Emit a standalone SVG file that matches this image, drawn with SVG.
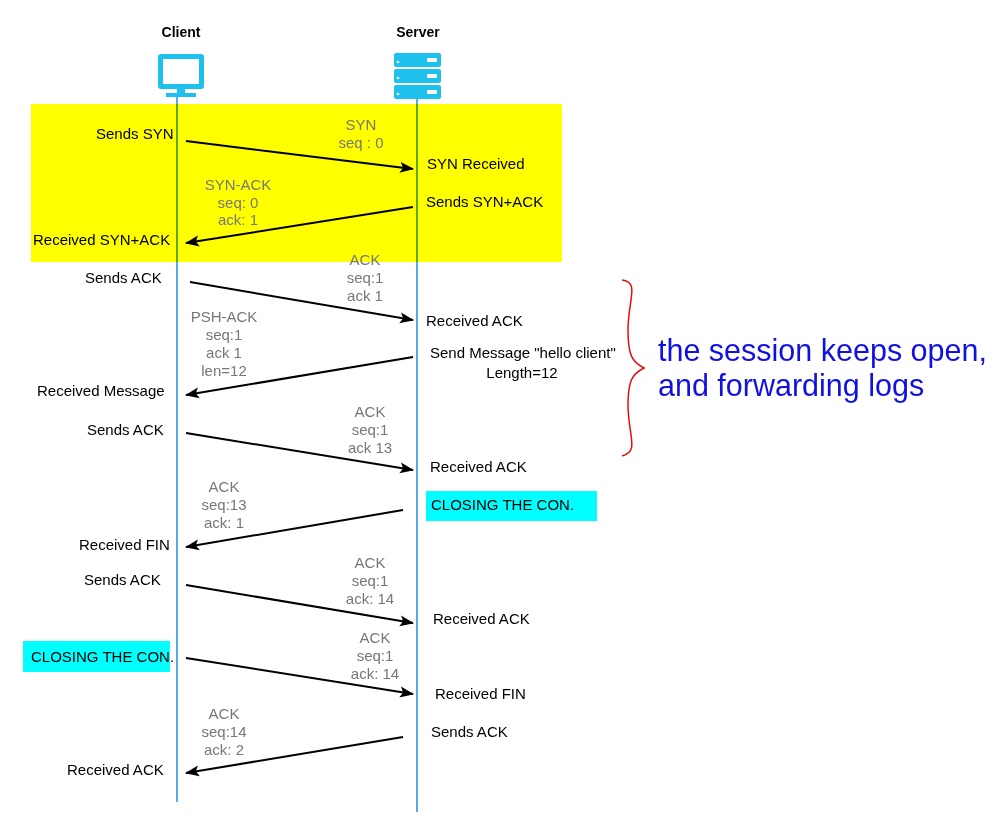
<svg xmlns="http://www.w3.org/2000/svg" width="999" height="833" viewBox="0 0 999 833">
<style>
text{font-family:"Liberation Sans",Arial,sans-serif;font-size:15px}
.g{fill:#777;text-anchor:middle}
.h{font-weight:bold;font-size:14px;text-anchor:middle}
.m{stroke:#000;stroke-width:2;fill:none;marker-end:url(#a)}
.life{stroke:#5aaae6;stroke-width:2}
.ic{fill:#1ec0ee}
</style>
<defs><marker id="a" markerWidth="16" markerHeight="12" refX="13" refY="6" orient="auto" markerUnits="userSpaceOnUse"><path d="M0,0.5 L14,6 L0,11.5 L3,6 Z" fill="#000"/></marker></defs>
<rect width="999" height="833" fill="#fff"/>
<g id="client"><text class="h" x="181" y="37">Client</text>
<rect class="ic" x="158" y="54" width="46" height="35" rx="3"/><rect x="163" y="59" width="36" height="25" fill="#fff"/><rect class="ic" x="177" y="88" width="8" height="6"/><rect class="ic" x="166" y="93" width="30" height="4"/>
<line class="life" x1="177" y1="97" x2="177" y2="802"/></g>
<g id="server"><text class="h" x="418" y="37">Server</text>
<g class="ic"><rect x="394" y="53" width="47" height="14" rx="2"/><rect x="394" y="69" width="47" height="14" rx="2"/><rect x="394" y="85" width="47" height="14" rx="2"/></g>
<g fill="#fff"><circle cx="398" cy="62" r="1.3"/><circle cx="398" cy="78" r="1.3"/><circle cx="398" cy="94" r="1.3"/><rect x="427" y="58" width="10" height="4"/><rect x="427" y="74" width="10" height="4"/><rect x="427" y="90" width="10" height="4"/></g>
<line class="life" x1="417" y1="99" x2="417" y2="812"/></g>
<rect id="handshake" x="31" y="104" width="531" height="158" fill="#ffff00" style="mix-blend-mode:multiply"/>
<rect x="426" y="491" width="171" height="30" fill="#00ffff"/>
<rect x="23" y="641" width="147" height="31" fill="#00ffff"/>
<g id="connectors">
<line class="m" x1="186" y1="141" x2="413" y2="169"/>
<line class="m" x1="413" y1="207" x2="186" y2="243"/>
<line class="m" x1="190" y1="282" x2="413" y2="320"/>
<line class="m" x1="413" y1="357" x2="186" y2="395"/>
<line class="m" x1="186" y1="433" x2="413" y2="470"/>
<line class="m" x1="403" y1="510" x2="186" y2="547"/>
<line class="m" x1="186" y1="585" x2="413" y2="623"/>
<line class="m" x1="186" y1="658" x2="413" y2="694"/>
<line class="m" x1="403" y1="737" x2="186" y2="773"/>
</g>
<g id="labels">
<text x="96" y="139">Sends SYN</text>
<text class="g" x="361" y="130">SYN</text><text class="g" x="361" y="148">seq : 0</text>
<text x="427" y="169">SYN Received</text>
<text class="g" x="238" y="190">SYN-ACK</text><text class="g" x="238" y="208">seq: 0</text><text class="g" x="238" y="225">ack: 1</text>
<text x="426" y="207">Sends SYN+ACK</text>
<text x="33" y="245">Received SYN+ACK</text>
<text x="85" y="283">Sends ACK</text>
<text class="g" x="365" y="265">ACK</text><text class="g" x="365" y="283">seq:1</text><text class="g" x="365" y="301">ack 1</text>
<text x="426" y="326">Received ACK</text>
<text class="g" x="224" y="322">PSH-ACK</text><text class="g" x="224" y="340">seq:1</text><text class="g" x="224" y="358">ack 1</text><text class="g" x="224" y="376">len=12</text>
<text x="430" y="358">Send Message "hello client"</text><text x="522" y="378" text-anchor="middle">Length=12</text>
<text x="37" y="396">Received Message</text>
<text x="87" y="435">Sends ACK</text>
<text class="g" x="370" y="417">ACK</text><text class="g" x="370" y="435">seq:1</text><text class="g" x="370" y="453">ack 13</text>
<text x="430" y="472">Received ACK</text>
<text class="g" x="224" y="492">ACK</text><text class="g" x="224" y="510">seq:13</text><text class="g" x="224" y="528">ack: 1</text>
<text x="431" y="510">CLOSING THE CON.</text>
<text x="79" y="550">Received FIN</text>
<text x="84" y="585">Sends ACK</text>
<text class="g" x="370" y="568">ACK</text><text class="g" x="370" y="586">seq:1</text><text class="g" x="370" y="604">ack: 14</text>
<text x="433" y="624">Received ACK</text>
<text x="31" y="662">CLOSING THE CON.</text>
<text class="g" x="375" y="643">ACK</text><text class="g" x="375" y="661">seq:1</text><text class="g" x="375" y="679">ack: 14</text>
<text x="435" y="699">Received FIN</text>
<text class="g" x="224" y="719">ACK</text><text class="g" x="224" y="737">seq:14</text><text class="g" x="224" y="755">ack: 2</text>
<text x="431" y="737">Sends ACK</text>
<text x="67" y="775">Received ACK</text>
</g>
<g id="note">
<path d="M622,280 C640,282 628,300 628,330 C628,355 632,362 644,368 C632,374 628,381 628,405 C628,435 640,452 622,456" fill="none" stroke="#e01010" stroke-width="1.5"/>
<text x="658" y="361" fill="#1010e0" style="font-size:30.5px">the session keeps open,</text>
<text x="658" y="396" fill="#1010e0" style="font-size:30.5px">and forwarding logs</text>
</g>
</svg>
